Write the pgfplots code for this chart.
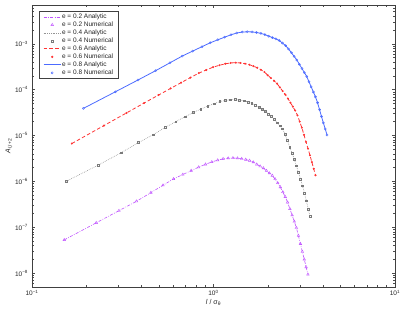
\documentclass[border=0pt]{standalone}
\usepackage{fontspec}
\setmainfont{Liberation Sans}
\usepackage{pgfplots}
\pgfplotsset{compat=1.18}
\usepackage{pgfplotstable}

\definecolor{cpur}{rgb}{0.75,0.32,1}
\definecolor{cgrayl}{rgb}{0.58,0.58,0.58}
\definecolor{cgraym}{rgb}{0.48,0.48,0.48}
\definecolor{cred}{rgb}{1,0.2,0.2}
\definecolor{cblue}{rgb}{0.30,0.42,1}

\pgfplotstableread{
x y
0.1506 5.32e-8
0.2259 1.253e-7
0.3012 2.301e-7
0.3765 3.690e-7
0.4518 5.70e-7
0.5271 8.24e-7
0.6024 1.135e-6
0.6777 1.413e-6
0.7530 1.718e-6
0.8283 2.042e-6
0.9036 2.360e-6
0.9789 2.661e-6
1.0542 2.904e-6
1.1295 3.112e-6
1.2048 3.214e-6
1.2801 3.243e-6
1.3554 3.206e-6
1.4307 3.119e-6
1.5060 2.992e-6
1.5813 2.844e-6
1.6566 2.630e-6
1.7319 2.355e-6
1.8072 2.143e-6
1.8825 1.954e-6
1.9578 1.714e-6
2.0331 1.514e-6
2.1084 1.340e-6
2.1837 1.127e-6
2.2590 9.23e-7
2.3343 7.53e-7
2.4096 5.87e-7
2.4849 4.61e-7
2.5602 3.50e-7
2.6355 2.52e-7
2.7108 1.84e-7
2.7861 1.34e-7
2.8614 9.79e-8
2.9367 6.56e-8
3.0120 4.37e-8
3.0873 2.94e-8
3.1627 2.00e-8
3.2380 1.36e-8
3.3133 9.40e-9
}\purdata

\pgfplotstableread{
x y
0.1547 1.009e-6
0.2320 2.275e-6
0.3094 4.217e-6
0.3867 7.03e-6
0.4640 1.040e-5
0.5414 1.500e-5
0.6187 2.009e-5
0.6961 2.564e-5
0.7734 3.184e-5
0.8507 3.767e-5
0.9281 4.385e-5
1.0054 4.943e-5
1.0828 5.508e-5
1.1601 5.808e-5
1.2374 6.053e-5
1.3148 6.081e-5
1.3921 5.916e-5
1.4695 5.768e-5
1.5468 5.408e-5
1.6241 5.012e-5
1.7015 4.571e-5
1.7788 4.140e-5
1.8561 3.758e-5
1.9335 3.334e-5
2.0108 2.931e-5
2.0882 2.588e-5
2.1655 2.254e-5
2.2428 1.914e-5
2.3202 1.637e-5
2.3975 1.406e-5
2.4749 1.076e-5
2.5522 7.76e-6
2.6295 5.65e-6
2.7069 4.16e-6
2.7842 3.08e-6
2.8616 2.20e-6
2.9389 1.57e-6
3.0162 1.13e-6
3.0936 8.05e-7
3.1709 5.58e-7
3.2483 3.80e-7
3.3256 2.51e-7
3.4029 1.73e-7
}\graydata

\pgfplotstableread{
x y
0.1658 6.70e-6
0.2488 1.644e-5
0.3317 3.11e-5
0.4146 5.11e-5
0.4975 7.62e-5
0.5804 1.064e-4
0.6633 1.422e-4
0.7463 1.832e-4
0.8292 2.291e-4
0.9121 2.692e-4
0.9950 3.09e-4
1.0779 3.404e-4
1.1609 3.664e-4
1.2438 3.819e-4
1.3267 3.873e-4
1.4096 3.819e-4
1.4925 3.69e-4
1.5755 3.50e-4
1.6584 3.26e-4
1.7413 3.00e-4
1.8242 2.72e-4
1.9071 2.43e-4
1.9900 2.06e-4
2.0730 1.79e-4
2.1559 1.56e-4
2.2388 1.36e-4
2.3217 1.12e-4
2.4046 9.33e-5
2.4876 7.80e-5
2.5705 6.41e-5
2.6534 5.21e-5
2.7363 4.26e-5
2.8192 3.50e-5
2.9022 2.75e-5
2.9851 2.01e-5
3.0680 1.48e-5
3.1509 1.04e-5
3.2338 7.28e-6
3.3167 5.18e-6
3.3997 3.71e-6
3.4826 2.64e-6
3.5655 1.89e-6
3.6484 1.36e-6
}\reddata

\pgfplotstableread{
x y
0.192 3.91e-5
0.288 8.99e-5
0.384 1.626e-4
0.480 2.594e-4
0.576 3.855e-4
0.672 5.395e-4
0.768 6.934e-4
0.864 8.65e-4
0.960 1.052e-3
1.056 1.222e-3
1.152 1.393e-3
1.248 1.570e-3
1.344 1.718e-3
1.440 1.799e-3
1.536 1.828e-3
1.632 1.811e-3
1.727 1.762e-3
1.823 1.687e-3
1.919 1.589e-3
2.015 1.466e-3
2.111 1.368e-3
2.207 1.279e-3
2.303 1.175e-3
2.399 1.035e-3
2.495 9.14e-4
2.591 7.71e-4
2.687 6.37e-4
2.783 5.30e-4
2.879 4.43e-4
2.975 3.56e-4
3.071 2.89e-4
3.167 2.36e-4
3.263 1.94e-4
3.359 1.48e-4
3.455 1.15e-4
3.551 8.89e-5
3.647 6.97e-5
3.743 5.21e-5
3.839 3.67e-5
3.935 2.61e-5
4.031 1.88e-5
4.127 1.39e-5
4.223 1.03e-5
}\bluedata

\begin{document}
\begin{tikzpicture}
\path (-32pt,-24pt) rectangle (373pt,287pt);
\begin{axis}[
  at={(0pt,0pt)}, anchor=south west,
  scale only axis, width=363pt, height=282pt,
  xmode=log, ymode=log,
  xmin=0.1, xmax=10, ymin=5e-9, ymax=7e-3,
  axis line style={draw=black!75, line width=0.7pt},
  every tick/.style={draw=black!70, line width=0.5pt},
  major tick length=3.2pt, minor tick length=1.8pt,
  xtick={0.1,1,10},
  xticklabels={10\textsuperscript{−1},10\textsuperscript{0},10\textsuperscript{1}},
  minor xtick={0.2,0.3,0.4,0.5,0.6,0.7,0.8,0.9,2,3,4,5,6,7,8,9},
  ytick={1e-8,1e-7,1e-6,1e-5,1e-4,1e-3},
  yticklabels={10\textsuperscript{−8},10\textsuperscript{−7},10\textsuperscript{−6},10\textsuperscript{−5},10\textsuperscript{−4},10\textsuperscript{−3}},
  minor ytick={6e-9,7e-9,8e-9,9e-9,
    2e-8,3e-8,4e-8,5e-8,6e-8,7e-8,8e-8,9e-8,
    2e-7,3e-7,4e-7,5e-7,6e-7,7e-7,8e-7,9e-7,
    2e-6,3e-6,4e-6,5e-6,6e-6,7e-6,8e-6,9e-6,
    2e-5,3e-5,4e-5,5e-5,6e-5,7e-5,8e-5,9e-5,
    2e-4,3e-4,4e-4,5e-4,6e-4,7e-4,8e-4,9e-4,
    2e-3,3e-3,4e-3,5e-3,6e-3,7e-3},
  tick label style={font=\fontsize{6.5}{7}\selectfont, text=black!85},
  xticklabel style={yshift=0.5pt},
  yticklabel style={xshift=-0.5pt},
  xlabel={\textit{l} / σ\textsubscript{θ}},
  ylabel={\textit{A}\textsubscript{\textit{l},\textit{l}+2}},
  label style={font=\fontsize{7}{8}\selectfont, text=black!85},
  x label style={at={(axis description cs:0.5,-0.032)}, anchor=north},
  y label style={at={(axis description cs:-0.0634,0.5)}, anchor=center},
  legend cell align=left,
  legend style={at={(rel axis cs:0,1)}, anchor=north west, xshift=7pt, yshift=-6pt,
    draw=black!75, line width=0.6pt, fill=white,
    font=\fontsize{6.5}{7}\selectfont, text=black!85,
    nodes={inner sep=0.9pt}, inner xsep=4pt, inner ysep=1.5pt},
]
\addplot[cpur, line width=0.6pt, dash pattern=on 3pt off 1.4pt on 0.7pt off 1.4pt] table {\purdata};
\addlegendentry{e = 0.2 Analytic}
\addplot[cpur, only marks, mark=triangle, mark size=1.5pt, mark options={line width=0.4pt}] table {\purdata};
\addlegendentry{e = 0.2 Numerical}
\addplot[cgrayl, line width=0.6pt, dash pattern=on 0.7pt off 1.1pt] table {\graydata};
\addlegendentry{e = 0.4 Analytic}
\addplot[cgraym, only marks, mark=square, mark size=0.9pt, mark options={line width=0.4pt}] table {\graydata};
\addlegendentry{e = 0.4 Numerical}
\addplot[cred, line width=0.8pt, dash pattern=on 3.5pt off 2.3pt] table {\reddata};
\addlegendentry{e = 0.6 Analytic}
\addplot[cred, only marks, mark=*, mark size=0.8pt] table {\reddata};
\addlegendentry{e = 0.6 Numerical}
\addplot[cblue, line width=0.8pt] table {\bluedata};
\addlegendentry{e = 0.8 Analytic}
\addplot[cblue, only marks, mark=o, mark size=1.1pt, mark options={line width=0.4pt}] table {\bluedata};
\addlegendentry{e = 0.8 Numerical}
\end{axis}
\end{tikzpicture}
\end{document}
